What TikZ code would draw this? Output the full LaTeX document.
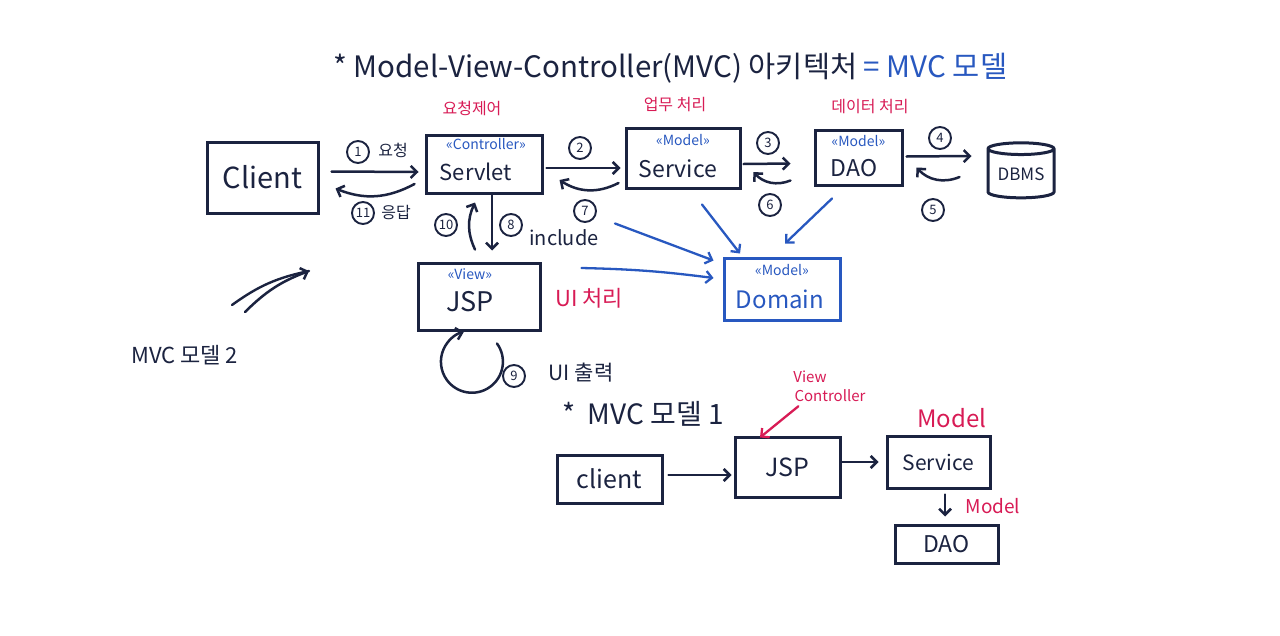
\documentclass[tikz,border=0pt]{standalone}
\usepackage{fontspec}
\setmainfont{Noto Sans CJK KR}
\usetikzlibrary{arrows.meta,shapes.geometric}
\definecolor{ink}{HTML}{1B2340}
\definecolor{bl}{HTML}{2858C0}
\definecolor{rd}{HTML}{D81B55}
\newcommand{\fsz}[1]{\fontsize{#1}{#1}\selectfont}
\begin{document}
\begin{tikzpicture}[x=1pt,y=-1pt,
  box/.style={draw=ink, line width=3pt, inner sep=0pt, text=ink},
  mbox/.style={draw=bl, line width=3pt, inner sep=0pt, text=bl},
  stereo/.style={text=bl, font=\fsz{14}, inner sep=0pt},
  num/.style={circle, draw=ink, line width=1.9pt, inner sep=0pt, minimum size=22pt, text=ink, font=\fsz{13}},
  arr/.style={draw=ink, line width=2.5pt, line cap=round, -{Straight Barb[length=6pt,width=12pt]}},
  barr/.style={draw=bl, line width=2.3pt, line cap=round, -{Straight Barb[length=6pt,width=12pt]}},
  rarr/.style={draw=rd, line width=2.3pt, line cap=round, -{Straight Barb[length=6pt,width=12pt]}},
  lbl/.style={text=ink, inner sep=0pt},
  redlbl/.style={text=rd, inner sep=0pt},
]
\useasboundingbox (0,0) rectangle (1280,635);
\fill[white] (0,0) rectangle (1280,635);

% title
\node[lbl, anchor=west, font=\fsz{29.5}] (title) at (333,68) {* Model-View-Controller(MVC) 아키텍처 \textcolor{bl}{= MVC 모델}};

% red role labels
\node[redlbl, font=\fsz{16}] (r1) at (472,108) {요청제어};
\node[redlbl, font=\fsz{16}] (r2) at (675,105) {업무 처리};
\node[redlbl, font=\fsz{16}] (r3) at (870,107) {데이터 처리};

% main boxes
\node[box, minimum width=111pt, minimum height=71pt, font=\fsz{29}] (client) at (262.5,177.5) {Client};

\node[box, minimum width=116pt, minimum height=58pt] (servlet) at (484,164) {};
\node[stereo] (servletS) at (486,144) {«Controller»};
\node[lbl, font=\fsz{22}] (servletT) at (476,172) {Servlet};

\node[box, minimum width=114pt, minimum height=60pt] (service) at (683,158) {};
\node[stereo] (serviceS) at (683,140) {«Model»};
\node[lbl, font=\fsz{23}] (serviceT) at (678,169) {Service};

\node[box, minimum width=87pt, minimum height=55pt] (dao) at (858.5,157.5) {};
\node[stereo] (daoS) at (858.5,141) {«Model»};
\node[lbl, font=\fsz{23}] (daoT) at (854,168) {DAO};

\node[cylinder, shape border rotate=90, aspect=0.25, draw=ink, line width=3pt, minimum width=66pt, minimum height=55pt, inner sep=0pt, text=ink, font=\fsz{17}] (dbms) at (1021,174) {DBMS};

\node[box, minimum width=122pt, minimum height=67pt] (jsp) at (479,296.5) {};
\node[stereo] (jspS) at (470,274) {«View»};
\node[lbl, font=\fsz{27}] (jspT) at (470,302) {JSP};

\node[mbox, minimum width=116pt, minimum height=62pt] (domain) at (782,289) {};
\node[stereo] (domainS) at (782,270) {«Model»};
\node[text=bl, inner sep=0pt, font=\fsz{24}] (domainT) at (780,299) {Domain};

% request / response
\draw[arr] ([xshift=12pt,yshift=6pt]client.east) -- ([xshift=-6pt,yshift=-8pt]servlet.west);
\node[num] (n1) at (358,152) {1};
\node[lbl, font=\fsz{16}] (n1t) at (393,150) {요청};
\draw[arr] ([xshift=-10pt,yshift=-20pt]servlet.west) to[bend left=25] ([xshift=16pt,yshift=-11pt]client.east);
\node[num] (n11) at (363,213) {11};
\node[lbl, font=\fsz{16}] (n11t) at (396,213) {응답};

% servlet <-> service
\draw[arr] ([xshift=3pt,yshift=-4pt]servlet.east) -- ([xshift=-4pt,yshift=-10pt]service.west);
\node[num] (n2) at (580,148) {2};
\draw[arr] ([xshift=-6pt,yshift=-25pt]service.west) to[bend left=30] ([xshift=16pt,yshift=-16pt]servlet.east);
\node[num] (n7) at (585,211) {7};

% service <-> dao
\draw[arr] ([xshift=2pt,yshift=-6pt]service.east) -- ([xshift=-23pt,yshift=-6pt]dao.west);
\node[num] (n3) at (768,143) {3};
\draw[arr] ([xshift=-23pt,yshift=-23pt]dao.west) to[bend left=35] ([xshift=12pt,yshift=-14pt]service.east);
\node[num] (n6) at (770,205) {6};

% dao <-> dbms
\draw[arr] ([xshift=3pt,yshift=1pt]dao.east) -- ([xshift=-15pt,yshift=18pt]dbms.west);
\node[num] (n4) at (940,138) {4};
\draw[arr] ([xshift=-27pt,yshift=-3pt]dbms.west) to[bend left=35] ([xshift=13pt,yshift=-10pt]dao.east);
\node[num] (n5) at (933,210) {5};

% servlet <-> jsp
\draw[arr] ([xshift=8pt]servlet.south) -- ([xshift=13pt,yshift=11pt]jsp.north);
\node[num] (n8) at (511,225) {8};
\node[lbl, font=\fsz{20}] (incl) at (564,238) {include};
\draw[arr] ([xshift=-4pt,yshift=12pt]jsp.north) to[bend left=25] ([xshift=-9pt,yshift=-8pt]servlet.south);
\node[num] (n10) at (446,225) {10};

\node[redlbl, font=\fsz{22}] (uiproc) at (589,298) {UI 처리};

% jsp self loop
\draw[arr] ([xshift=18pt,yshift=-12pt]jsp.south) arc[start angle=36, end angle=-255, radius=31pt];
\node[num] (n9) at (514,376) {9};
\node[lbl, font=\fsz{21}] (uiout) at (581,373) {UI 출력};

% blue arrows to domain
\draw[barr] ([xshift=131pt,yshift=-29pt]servlet.south) -- ([xshift=-9pt,yshift=-4pt]domain.north west);
\draw[barr] ([xshift=40pt,yshift=28.5pt]jsp.east) to[bend left=3] ([xshift=-9pt,yshift=11pt]domain.west);
\draw[barr] ([xshift=19pt,yshift=-15pt]service.south) -- ([xshift=-42pt,yshift=3pt]domain.north);
\draw[barr] ([xshift=-26.5pt,yshift=-12pt]dao.south) -- ([xshift=3pt,yshift=13pt]domain.north);

% MVC model 2 pointer
\coordinate (m2a) at (232,305);
\coordinate (m2b) at (309,271);
\coordinate (m2c) at (245,312);
\draw[ink, line width=2.4pt, line cap=round] (m2a) to[bend left=12] (m2b);
\draw[arr] (m2c) to[bend left=12] (m2b);
\node[lbl, anchor=west, font=\fsz{22}] (m2) at (131,355) {MVC 모델 2};

% MVC model 1
\node[lbl, anchor=west, font=\fsz{28}] (m1) at (562,414) {*\ \ MVC 모델 1};
\node[box, minimum width=105pt, minimum height=48pt, font=\fsz{25}] (client2) at (609.5,479) {client};
\node[box, minimum width=105pt, minimum height=60pt, font=\fsz{25}] (jsp2) at (787.5,467) {JSP};
\node[box, minimum width=103pt, minimum height=52pt, font=\fsz{21}] (service2) at (938.5,462) {Service};
\node[box, minimum width=103pt, minimum height=38pt, font=\fsz{23}] (dao2) at (946.5,544) {DAO};
\draw[arr] ([xshift=5pt,yshift=4pt]client2.east) -- ([xshift=-2pt,yshift=-8pt]jsp2.west);
\draw[arr] ([yshift=5pt]jsp2.east) -- ([xshift=-7pt]service2.west);
\draw[arr] ([xshift=6.5pt,yshift=-5pt]service2.south) -- ([xshift=-1.5pt,yshift=7pt]dao2.north);

\node[redlbl, font=\fsz{15}] (vcv) at (810,377) {View};
\node[redlbl, font=\fsz{15}] (vc) at (830,396) {Controller};
\draw[rarr] ([xshift=4pt,yshift=-4pt]vc.south west) -- ([xshift=-27.5pt,yshift=-2pt]jsp2.north);
\node[redlbl, font=\fsz{24}] (mod1) at (952,418) {Model};
\node[redlbl, font=\fsz{19}] (mod2) at (993,506) {Model};
\end{tikzpicture}
\end{document}
